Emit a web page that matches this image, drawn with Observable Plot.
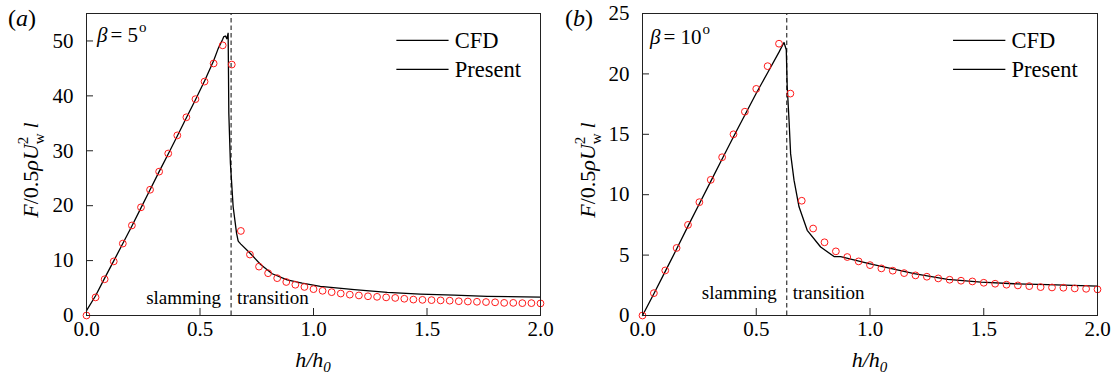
<!DOCTYPE html>
<html>
<head>
<meta charset="utf-8">
<script src="https://cdn.jsdelivr.net/npm/d3@7"></script>
<script src="https://cdn.jsdelivr.net/npm/@observablehq/plot@0.6"></script>
<style>
  body { margin: 0; background: #fff; }
  #wrap { display: flex; width: 1114px; height: 374px; }
  #wrap svg, #wrap svg text, #wrap svg tspan { font-family: "Liberation Serif", "Times New Roman", serif !important; }
</style>
</head>
<body>
<div id="wrap"></div>
<script>
// ---------- Panel (a): beta = 5 deg ----------
// CFD samples (red circles)
const cfdA_h = [0, 0.04, 0.08, 0.12, 0.16, 0.2, 0.24, 0.28, 0.32, 0.36, 0.4, 0.44, 0.48, 0.52, 0.56, 0.6, 0.64,
  0.68, 0.72, 0.76, 0.8, 0.84, 0.88, 0.92, 0.96, 1.0, 1.04, 1.08, 1.12, 1.16, 1.2, 1.24, 1.28, 1.32, 1.36, 1.4,
  1.44, 1.48, 1.52, 1.56, 1.6, 1.64, 1.68, 1.72, 1.76, 1.8, 1.84, 1.88, 1.92, 1.96, 2.0];
const cfdA_F = [0, 3.3, 6.6, 9.85, 13.1, 16.4, 19.7, 22.9, 26.2, 29.5, 32.8, 36.1, 39.4, 42.6, 45.9, 49.2, 45.7,
  15.4, 11.1, 8.9, 7.7, 6.8, 6.1, 5.6, 5.2, 4.8, 4.5, 4.25, 4.0, 3.8, 3.65, 3.5, 3.4, 3.3, 3.2, 3.05,
  2.9, 2.85, 2.8, 2.75, 2.7, 2.6, 2.55, 2.5, 2.45, 2.4, 2.3, 2.3, 2.25, 2.25, 2.2];
// Present model (solid line)
const modelA_h = [0, 0.04, 0.08, 0.12, 0.16, 0.2, 0.24, 0.28, 0.32, 0.36, 0.4, 0.44, 0.48, 0.52, 0.56, 0.58, 0.6,
  0.605, 0.612, 0.618, 0.624, 0.627, 0.634, 0.646, 0.661, 0.668, 0.671, 0.68, 0.722, 0.767, 0.818, 0.884, 0.95,
  1.03, 1.18, 1.325, 1.47, 1.62, 1.765, 2.0];
const modelA_F = [0.9, 3.6, 6.8, 9.95, 13.1, 16.3, 19.6, 22.9, 26.2, 29.4, 32.7, 36.0, 39.3, 42.7, 46.4, 48.6, 50.3,
  50.8, 50.9, 50.4, 51.4, 36.8, 27.7, 19.8, 15.0, 13.6, 13.4, 13.0, 11.3, 9.3, 7.6, 6.5, 5.9,
  5.3, 4.7, 4.2, 3.9, 3.7, 3.5, 3.35];

// ---------- Panel (b): beta = 10 deg ----------
const cfdB_h = [0, 0.05, 0.1, 0.15, 0.2, 0.25, 0.3, 0.35, 0.4, 0.45, 0.5, 0.55, 0.6, 0.65, 0.7, 0.75, 0.8, 0.85,
  0.9, 0.95, 1.0, 1.05, 1.1, 1.15, 1.2, 1.25, 1.3, 1.35, 1.4, 1.45, 1.5, 1.55, 1.6, 1.65, 1.7, 1.75, 1.8, 1.85,
  1.9, 1.95, 2.0];
const cfdB_F = [0, 1.85, 3.73, 5.59, 7.5, 9.38, 11.23, 13.1, 15.0, 16.87, 18.76, 20.64, 22.5, 18.37, 9.5, 7.2,
  6.06, 5.31, 4.84, 4.48, 4.17, 3.9, 3.71, 3.51, 3.32, 3.21, 3.07, 2.96, 2.88, 2.82, 2.71, 2.63, 2.55, 2.49,
  2.43, 2.35, 2.32, 2.3, 2.24, 2.21, 2.16];
const modelB_h = [0, 0.05, 0.1, 0.15, 0.2, 0.25, 0.3, 0.35, 0.4, 0.45, 0.5, 0.55, 0.6, 0.622, 0.632, 0.636, 0.644,
  0.651, 0.666, 0.688, 0.724, 0.783, 0.842, 0.871, 0.996, 1.194, 1.341, 1.488, 1.634, 1.781, 2.0];
const modelB_F = [0, 1.8, 3.65, 5.5, 7.4, 9.25, 11.1, 12.95, 14.8, 16.6, 18.4, 20.1, 21.8, 22.6, 22.0, 19.0, 16.2,
  13.4, 11.2, 9.0, 7.05, 5.67, 4.88, 4.88, 4.29, 3.46, 2.99, 2.77, 2.63, 2.55, 2.43];

// ---------- Shared axis and label settings ----------
const xTicks = [0, 0.5, 1.0, 1.5, 2.0];
const yTicksA = [0, 10, 20, 30, 40, 50];
const yTicksB = [0, 5, 10, 15, 20, 25];
const legendLabels = ["CFD", "Present"];
const regimeLabels = ["slamming", "transition"];

const FONT = "Liberation Serif, Times New Roman, serif";

function panel({cfdH, cfdF, modelH, modelF, yMax, yTicks, split, regimeDy, marginLeft}) {
  const cfd = cfdH.map((h, i) => ({h, F: cfdF[i]}));
  const model = modelH.map((h, i) => ({h, F: modelF[i]}));
  // legend rows placed as fractions of the frame
  const legend = legendLabels.map((label, i) => ({label, y: yMax * (1 - [0.089, 0.185][i])}));

  return Plot.plot({
    width: 557,
    height: 374,
    marginLeft,
    marginRight: 17,
    marginTop: 13,
    marginBottom: 59,
    style: {fontFamily: FONT, fontSize: "21px", color: "black", background: "white", overflow: "visible"},
    x: {domain: [0, 2]},
    y: {domain: [0, yMax]},
    marks: [
      Plot.ruleX([split], {y1: 0, y2: yMax, stroke: "#333", strokeWidth: 1.2, strokeDasharray: "4.5,3"}),
      Plot.line(model, {x: "h", y: "F", stroke: "black", strokeWidth: 1.3}),
      Plot.dot(cfd, {x: "h", y: "F", r: 3.4, stroke: "#ff1a1a", strokeWidth: 1, fill: "none"}),
      Plot.frame({stroke: "#222", strokeWidth: 1}),
      Plot.axisX({ticks: xTicks, tickFormat: d3.format(".1f"), tickSize: -7, tickPadding: 13,
        label: null, fontSize: 21, stroke: "#222"}),
      Plot.axisY({ticks: yTicks, tickSize: -7, tickPadding: 20, label: null, fontSize: 21, stroke: "#222"}),
      // regime annotations on either side of the dashed divider
      Plot.text([regimeLabels[0]], {x: () => split, y: () => 0, text: d => d, textAnchor: "end",
        dx: -10, dy: regimeDy, fontSize: 19}),
      Plot.text([regimeLabels[1]], {x: () => split, y: () => 0, text: d => d, textAnchor: "start",
        dx: 6, dy: regimeDy, fontSize: 19}),
      // legend
      Plot.link(legend, {x1: () => 1.365, x2: () => 1.595, y1: "y", y2: "y", stroke: "black", strokeWidth: 1.1}),
      Plot.text(legend, {x: () => 1.622, y: "y", text: "label", textAnchor: "start", fontSize: 22.5})
    ]
  });
}

function decorate(svg, {tag, beta, betaX, betaY, frameLeft}) {
  const s = d3.select(svg);
  const frameRight = 557 - 17;
  // panel tag, e.g. (a)
  const t = s.append("text").attr("x", 8).attr("y", 26).attr("text-anchor", "start")
    .attr("font-size", 24).attr("fill", "black");
  t.append("tspan").text("(");
  t.append("tspan").attr("font-style", "italic").text(tag);
  t.append("tspan").text(")");

  // deadrise angle label
  const b = s.append("text").attr("x", betaX).attr("y", betaY).attr("text-anchor", "start")
    .attr("font-size", 21).attr("fill", "black");
  b.append("tspan").attr("font-style", "italic").text("β");
  b.append("tspan").attr("dx", 3).text("= " + beta);
  b.append("tspan").attr("font-size", 15).attr("dy", -10).attr("dx", 1).text("o");

  // y-axis title: F/0.5 rho U_w^2 l
  const y = s.append("text")
    .attr("transform", `translate(38,170) rotate(-90)`)
    .attr("text-anchor", "middle").attr("font-size", 22).attr("fill", "black");
  y.append("tspan").attr("font-style", "italic").text("F");
  y.append("tspan").text("/0.5");
  y.append("tspan").attr("font-style", "italic").text("ρ");
  y.append("tspan").attr("font-style", "italic").text("U");
  y.append("tspan").attr("font-size", 15).attr("dy", -10).text("2");
  y.append("tspan").attr("font-size", 15).attr("dx", -7.5).attr("dy", 16).text("w");
  y.append("tspan").attr("font-style", "italic").attr("dx", 5).attr("dy", -6).text("l");

  // x-axis title: h/h_0
  const x = s.append("text")
    .attr("x", (frameLeft + frameRight) / 2).attr("y", 367)
    .attr("text-anchor", "middle").attr("font-size", 22).attr("fill", "black")
    .attr("font-style", "italic");
  x.append("tspan").text("h/h");
  x.append("tspan").attr("font-size", 15).attr("dy", 5).text("0");

  s.attr("font-family", FONT);
}

const wrap = document.getElementById("wrap");

const svgA = panel({cfdH: cfdA_h, cfdF: cfdA_F, modelH: modelA_h, modelF: modelA_F,
  yMax: 55, yTicks: yTicksA, split: 0.637, regimeDy: -18, marginLeft: 86});
decorate(svgA, {tag: "a", beta: "5", betaX: 97, betaY: 42, frameLeft: 86});
wrap.appendChild(svgA);

const svgB = panel({cfdH: cfdB_h, cfdF: cfdB_F, modelH: modelB_h, modelF: modelB_F,
  yMax: 25, yTicks: yTicksB, split: 0.634, regimeDy: -23, marginLeft: 85});
decorate(svgB, {tag: "b", beta: "10", betaX: 93, betaY: 44, frameLeft: 85});
wrap.appendChild(svgB);
</script>
</body>
</html>
